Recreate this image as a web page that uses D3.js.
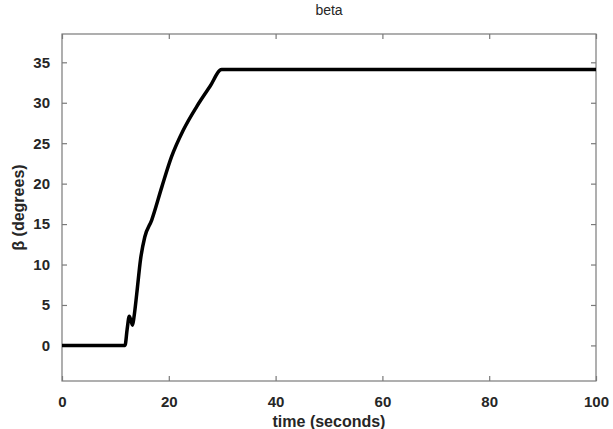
<!DOCTYPE html>
<html>
<head>
<meta charset="utf-8">
<script src="https://d3js.org/d3.v7.min.js"></script>
<style>
  body { margin: 0; background: #fff; }
  svg text { font-family: "Liberation Sans", Arial, sans-serif; }
</style>
</head>
<body>
<div id="chart"></div>
<script>
// beta response
const time = [0, 5, 10, 11.8, 12.2, 12.6, 12.9, 13.2, 13.5, 14.0, 14.7, 15.5, 16.8, 18.7, 20.5, 22.7, 25.2, 27.7, 29.9, 40, 60, 80, 100];
const beta = [0, 0, 0, 0, 2.0, 3.6, 3.1, 2.5, 3.6, 6.4, 10.6, 13.4, 15.5, 19.6, 23.3, 26.6, 29.5, 32, 34.1, 34.1, 34.1, 34.1, 34.1];
const xTicks = [0, 20, 40, 60, 80, 100];
const yTicks = [0, 5, 10, 15, 20, 25, 30, 35];

const width = 613;
const height = 429;
const margin = { top: 34, right: 17, bottom: 48, left: 62 };
const axisColor = "#7a7a7a";

const svg = d3.select("#chart")
    .append("svg")
    .attr("width", width)
    .attr("height", height);

const x = d3.scaleLinear()
    .domain([0, 100])
    .range([margin.left, width - margin.right]);

const y = d3.scaleLinear()
    .domain([-4.4, 38.5])
    .range([height - margin.bottom, margin.top]);

const tickLen = 5;

// box
svg.append("rect")
    .attr("x", x(0))
    .attr("y", y(38.5))
    .attr("width", x(100) - x(0))
    .attr("height", y(-4.4) - y(38.5))
    .attr("fill", "none")
    .attr("stroke", axisColor)
    .attr("stroke-width", 1.2);

// inward ticks on all four sides
const bottomAxis = svg.append("g")
    .attr("transform", `translate(0,${y(-4.4)})`)
    .call(d3.axisBottom(x).tickValues(xTicks).tickSizeInner(-tickLen).tickSizeOuter(0).tickPadding(15));
const topAxis = svg.append("g")
    .attr("transform", `translate(0,${y(38.5)})`)
    .call(d3.axisTop(x).tickValues(xTicks).tickSizeInner(-tickLen).tickSizeOuter(0).tickFormat(""));
const leftAxis = svg.append("g")
    .attr("transform", `translate(${x(0)},0)`)
    .call(d3.axisLeft(y).tickValues(yTicks).tickSizeInner(-tickLen).tickSizeOuter(0).tickPadding(12));
const rightAxis = svg.append("g")
    .attr("transform", `translate(${x(100)},0)`)
    .call(d3.axisRight(y).tickValues(yTicks).tickSizeInner(-tickLen).tickSizeOuter(0).tickFormat(""));

[bottomAxis, topAxis, leftAxis, rightAxis].forEach(g => {
    g.select(".domain").remove();
    g.selectAll(".tick line").attr("stroke", axisColor).attr("stroke-width", 1.2);
    g.selectAll(".tick text")
        .attr("fill", "#262626")
        .style("font-size", "15px")
        .style("font-weight", "bold");
});

// curve
const line = d3.line()
    .x((d, i) => x(time[i]))
    .y(d => y(d))
    .curve(d3.curveMonotoneX);

svg.append("path")
    .datum(beta)
    .attr("d", line)
    .attr("fill", "none")
    .attr("stroke", "#000")
    .attr("stroke-width", 3.5)
    .attr("stroke-linejoin", "round");

// texts
svg.append("text")
    .attr("x", (x(0) + x(100)) / 2)
    .attr("y", 15)
    .attr("text-anchor", "middle")
    .style("font-size", "14px")
    .attr("fill", "#262626")
    .text("beta");

svg.append("text")
    .attr("x", (x(0) + x(100)) / 2)
    .attr("y", 427)
    .attr("text-anchor", "middle")
    .style("font-size", "16px")
    .style("font-weight", "bold")
    .attr("fill", "#262626")
    .text("time (seconds)");

svg.append("text")
    .attr("transform", `translate(24,${(y(-4.4) + y(38.5)) / 2}) rotate(-90)`)
    .attr("text-anchor", "middle")
    .style("font-size", "16px")
    .style("font-weight", "bold")
    .attr("fill", "#262626")
    .text("β (degrees)");
</script>
</body>
</html>
